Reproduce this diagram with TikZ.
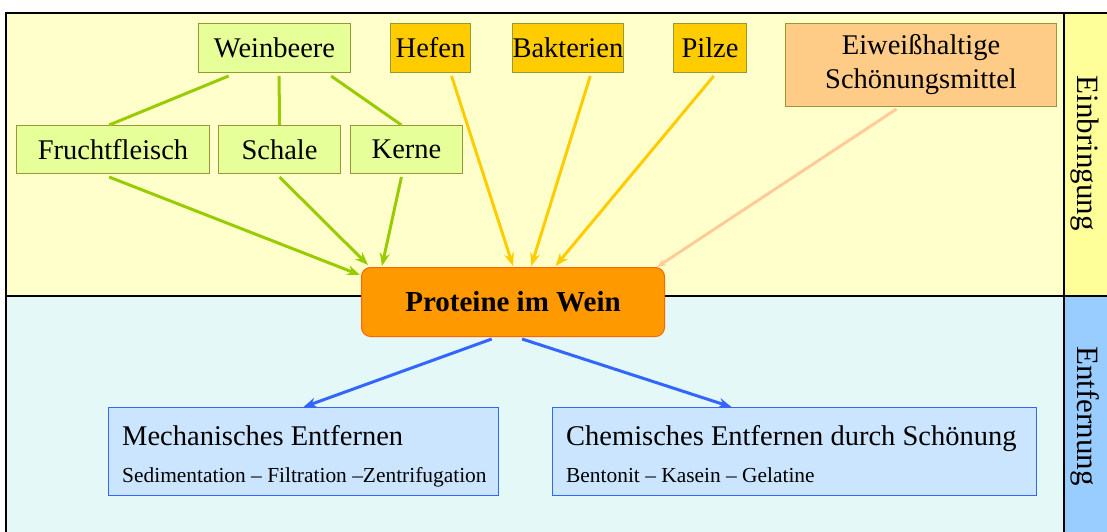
\documentclass[tikz,border=0pt]{standalone}
\usepackage{fontspec}
\setmainfont{Liberation Serif}
\usetikzlibrary{arrows.meta,calc}

\definecolor{topbg}{HTML}{FFFFCC}
\definecolor{topcol}{HTML}{FFFF99}
\definecolor{botbg}{HTML}{E5F8F8}
\definecolor{botcol}{HTML}{99CCFF}
\definecolor{grapefill}{HTML}{E6FF99}
\definecolor{grapeline}{HTML}{99CC00}
\definecolor{boxline}{HTML}{999933}
\definecolor{microfill}{HTML}{FFCC00}
\definecolor{finefill}{HTML}{FFCC88}
\definecolor{fineline}{HTML}{FFCC99}
\definecolor{protfill}{HTML}{FF9900}
\definecolor{protline}{HTML}{FF6600}
\definecolor{remfill}{HTML}{CCE5FF}
\definecolor{remline}{HTML}{3366FF}

\tikzset{
  box/.style={draw=boxline, line width=1pt, inner sep=0pt, anchor=north west,
    font=\fontsize{28.5}{34}\selectfont},
  grape/.style={box, fill=grapefill},
  micro/.style={box, fill=microfill},
  fine/.style={box, fill=finefill, align=center},
  prot/.style={box, draw=protline, fill=protfill, rounded corners=9pt,
    font=\fontsize{29}{34}\selectfont\bfseries},
  remove/.style={draw=remline, line width=1pt, fill=remfill, inner sep=0pt, anchor=north west},
  remtitle/.style={anchor=base west, inner sep=0pt, font=\fontsize{28.5}{34}\selectfont},
  remsub/.style={anchor=base west, inner sep=0pt, font=\fontsize{21.4}{25}\selectfont},
  tie/.style={draw=grapeline, line width=3pt},
  feed/.style={line width=3pt, -{Stealth[length=13pt,width=10pt]}},
  band/.style={font=\fontsize{31}{36}\selectfont, rotate=-90, inner sep=0pt},
}

\begin{document}
\begin{tikzpicture}[x=1pt,y=-1pt]
  \useasboundingbox (0,0) rectangle (1107,532);

  % background bands
  \fill[topbg] (6,13) rectangle (1064,296);
  \fill[topcol] (1064,13) rectangle (1107,296);
  \fill[botbg] (6,296) rectangle (1064,532);
  \fill[botcol] (1064,296) rectangle (1107,532);
  \draw[line width=1.2pt] (1107,13) -- (6,13) -- (6,532);
  \draw[line width=1.2pt] (6,296) -- (1107,296);
  \draw[line width=1.2pt] (1064,13) -- (1064,532);

  \node[band] (einb) at (1085,153) {Einbringung};
  \node[band] (entf) at (1085,416) {Entfernung};

  % sources
  \node[grape, minimum width=152pt, minimum height=49pt] (wb) at (198,23) {Weinbeere};
  \node[grape, minimum width=193pt, minimum height=48pt] (ff) at (16,125) {Fruchtfleisch};
  \node[grape, minimum width=122pt, minimum height=48pt] (sc) at (218,125) {Schale};
  \node[grape, minimum width=112pt, minimum height=48pt] (ke) at (350,125) {Kerne};
  \node[micro, minimum width=80pt, minimum height=49pt] (he) at (390,23) {Hefen};
  \node[micro, minimum width=98pt, minimum height=49pt] (ba) at (512,23) {Bakterien};
  \node[micro, minimum width=73pt, minimum height=49pt] (pi) at (673,23) {Pilze};
  \node[fine, minimum width=271pt, minimum height=83pt] (ew) at (785,23)
    {Eiweißhaltige\\Schönungsmittel};

  % central node
  \node[prot, minimum width=303pt, minimum height=69pt] (pw) at (361,267) {Proteine im Wein};

  % removal
  \node[remove, minimum width=390pt, minimum height=88pt] (me) at (108,407) {};
  \node[remtitle] (met) at (122,445) {Mechanisches Entfernen};
  \node[remsub] (mes) at (122,482) {Sedimentation – Filtration –Zentrifugation};
  \node[remove, minimum width=484pt, minimum height=88pt] (ce) at (552,407) {};
  \node[remtitle] (cet) at (566,445) {Chemisches Entfernen durch Schönung};
  \node[remsub] (ces) at (566,482) {Bentonit – Kasein – Gelatine};

  % grape parts
  \draw[tie] ($(wb.south west)!0.2!(wb.south east)+(0,3)$) -- ($(ff.north west)!0.48!(ff.north east)$);
  \draw[tie] ($(wb.south west)!0.53!(wb.south east)+(0,3)$) -- (sc.north);
  \draw[tie] ($(wb.south west)!0.87!(wb.south east)+(0,3)$) -- ($(ke.north west)!0.455!(ke.north east)$);

  % sources into the wine
  \draw[feed, grapeline] ($(ff.south west)!0.48!(ff.south east)+(0,3)$) -- ($(pw.north west)+(-1,8)$);
  \draw[feed, grapeline] ($(sc.south)+(0,3)$) -- ($(pw.north west)+(7,-2)$);
  \draw[feed, grapeline] ($(ke.south west)!0.455!(ke.south east)+(0,3)$) -- ($(pw.north west)+(21,-1)$);
  \draw[feed, microfill] ($(he.south west)!0.76!(he.south east)+(0,3)$) -- ($(pw.north)+(0,-1)$);
  \draw[feed, microfill] ($(ba.south west)!0.70!(ba.south east)+(0,3)$) -- ($(pw.north west)!0.56!(pw.north east)+(0,-1)$);
  \draw[feed, microfill] ($(pi.south west)!0.55!(pi.south east)+(0,3)$) -- ($(pw.north west)!0.64!(pw.north east)+(0,-1)$);
  \draw[fineline, line width=3pt, -{Stealth[length=9pt,width=7pt]}]
    ($(ew.south west)!0.41!(ew.south east)+(0,2)$) -- ($(pw.north east)+(-8,0)$);

  % removal paths
  \draw[feed, remline] ($(pw.south west)!0.43!(pw.south east)+(0,2)$) -- (me.north);
  \draw[feed, remline] ($(pw.south west)!0.53!(pw.south east)+(0,2)$) -- ($(ce.north west)!0.37!(ce.north east)$);
\end{tikzpicture}
\end{document}
